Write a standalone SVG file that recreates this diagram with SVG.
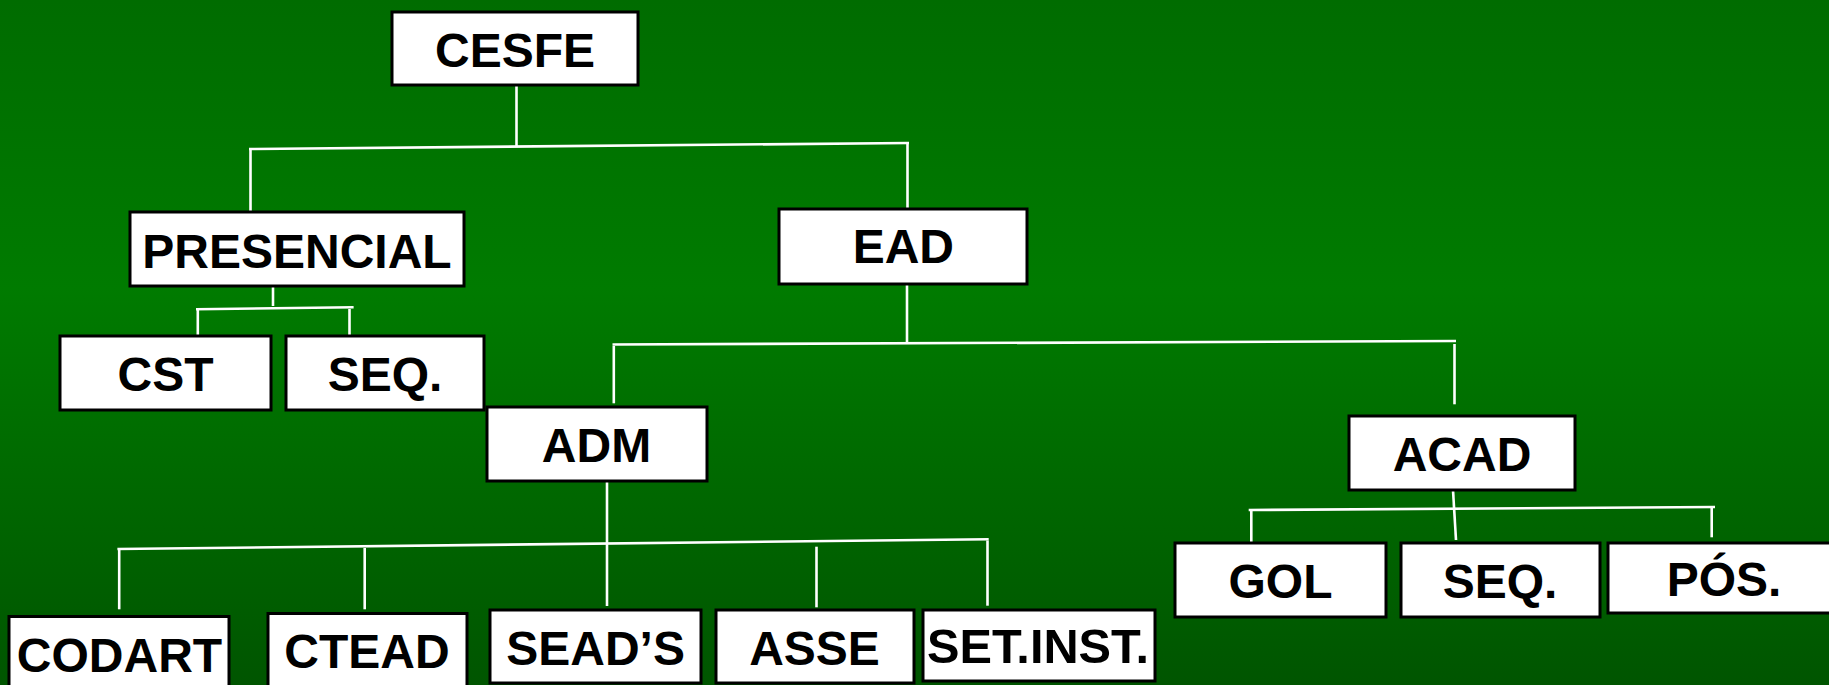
<svg xmlns="http://www.w3.org/2000/svg" width="1829" height="685" viewBox="0 0 1829 685">
<defs>
<linearGradient id="bg" x1="0" y1="0" x2="0" y2="1">
<stop offset="0" stop-color="#006c00"/>
<stop offset="0.42" stop-color="#007b00"/>
<stop offset="1" stop-color="#005500"/>
</linearGradient>
</defs>
<style>
.box{fill:#ffffff;stroke:#000000;stroke-width:3}
.lbl{font-family:"Liberation Sans",Arial,sans-serif;font-weight:bold;font-size:48px;fill:#000000;text-anchor:middle}
.ln{stroke:#ffffff;stroke-width:2.6;fill:none}
</style>
<rect x="0" y="0" width="1829" height="685" fill="url(#bg)"/>
<g id="connectors">
<line class="ln" x1="516.5" y1="85" x2="516.5" y2="146"/>
<line class="ln" x1="249" y1="149" x2="909" y2="143"/>
<line class="ln" x1="250.5" y1="150" x2="250.5" y2="211"/>
<line class="ln" x1="907.5" y1="144" x2="907.5" y2="209"/>
<line class="ln" x1="273" y1="286" x2="273" y2="306"/>
<line class="ln" x1="196" y1="309.3" x2="353.6" y2="307.3"/>
<line class="ln" x1="197.8" y1="310" x2="197.8" y2="337"/>
<line class="ln" x1="349.5" y1="309" x2="349.5" y2="337"/>
<line class="ln" x1="907" y1="284" x2="907" y2="342"/>
<line class="ln" x1="612.5" y1="344.5" x2="1456" y2="341"/>
<line class="ln" x1="613.8" y1="346" x2="613.8" y2="403.3"/>
<line class="ln" x1="1454.5" y1="344" x2="1454.5" y2="404.3"/>
<line class="ln" x1="607" y1="481" x2="607" y2="606"/>
<line class="ln" x1="117.4" y1="549" x2="988.7" y2="539.3"/>
<line class="ln" x1="119.2" y1="550" x2="119.2" y2="609.3"/>
<line class="ln" x1="364.7" y1="548" x2="364.7" y2="609.3"/>
<line class="ln" x1="816.5" y1="546.7" x2="816.5" y2="607.3"/>
<line class="ln" x1="987.5" y1="540.5" x2="987.5" y2="605.7"/>
<line class="ln" x1="1453" y1="490" x2="1456" y2="540"/>
<line class="ln" x1="1248.7" y1="510" x2="1715" y2="507"/>
<line class="ln" x1="1251.3" y1="510" x2="1251.3" y2="543"/>
<line class="ln" x1="1711.7" y1="507.5" x2="1711.7" y2="537.3"/>
</g>
<g id="n-cesfe"><rect class="box" x="392" y="12" width="246" height="73"/><text class="lbl" x="515" y="66.7">CESFE</text></g>
<g id="n-presencial"><rect class="box" x="130" y="212" width="334" height="74"/><text class="lbl" x="297" y="267.7">PRESENCIAL</text></g>
<g id="n-cst"><rect class="box" x="60" y="336" width="211" height="74"/><text class="lbl" x="165.5" y="390.7">CST</text></g>
<g id="n-seq1"><rect class="box" x="286" y="336" width="198" height="74"/><text class="lbl" x="385" y="390.7">SEQ.</text></g>
<g id="n-ead"><rect class="box" x="779" y="209" width="248" height="75"/><text class="lbl" x="903.3" y="263.3">EAD</text></g>
<g id="n-adm"><rect class="box" x="487" y="407" width="220" height="74"/><text class="lbl" x="596.5" y="462.3">ADM</text></g>
<g id="n-acad"><rect class="box" x="1349" y="416" width="226" height="74"/><text class="lbl" x="1462" y="470.7">ACAD</text></g>
<g id="n-codart"><rect class="box" x="9" y="616.5" width="220" height="80"/><text class="lbl" x="119.5" y="671.7">CODART</text></g>
<g id="n-ctead"><rect class="box" x="268" y="613.5" width="199" height="80"/><text class="lbl" x="367" y="668.3">CTEAD</text></g>
<g id="n-seads"><rect class="box" x="490" y="610" width="211" height="73"/><text class="lbl" x="595.6" y="665">SEAD’S</text></g>
<g id="n-asse"><rect class="box" x="716" y="610" width="198" height="73"/><text class="lbl" x="814.5" y="665">ASSE</text></g>
<g id="n-setinst"><rect class="box" x="923" y="610" width="232" height="71"/><text class="lbl" x="1038" y="663.3" textLength="222" lengthAdjust="spacingAndGlyphs">SET.INST.</text></g>
<g id="n-gol"><rect class="box" x="1175" y="543" width="211" height="74"/><text class="lbl" x="1280.5" y="598.3">GOL</text></g>
<g id="n-seq2"><rect class="box" x="1401" y="543" width="199" height="74"/><text class="lbl" x="1500" y="598.3">SEQ.</text></g>
<g id="n-pos"><rect class="box" x="1608" y="543" width="240" height="70"/><text class="lbl" x="1724" y="596">PÓS.</text></g>
</svg>
